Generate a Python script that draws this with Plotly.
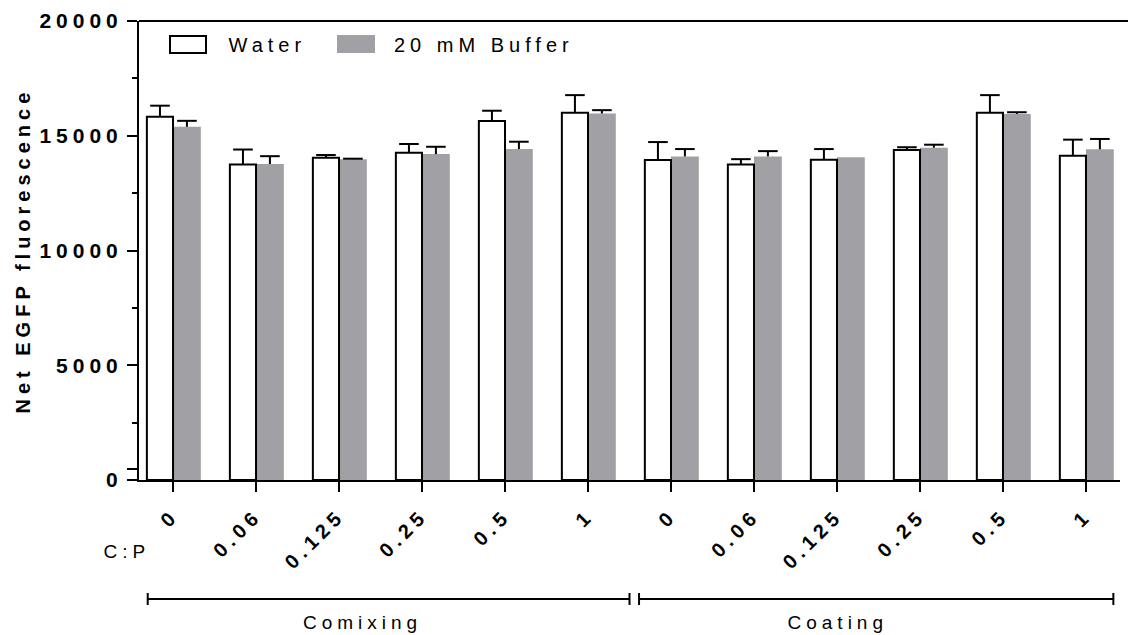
import plotly.graph_objects as go

# ---- data ----
ratios = ["0", "0.06", "0.125", "0.25", "0.5", "1"]
methods = ["Comixing", "Coating"]
tick_labels = ratios + ratios

water_mean = [15830, 13750, 14040, 14260, 15640, 16000, 13940, 13750, 13950, 14380, 16000, 14130]
water_sd = [480, 650, 120, 380, 450, 770, 785, 230, 470, 120, 770, 700]
buffer_mean = [15390, 13770, 13980, 14200, 14420, 15970, 14100, 14100, 14060, 14480, 15950, 14410]
buffer_sd = [260, 340, 20, 320, 320, 145, 320, 230, 0, 130, 75, 450]

y_ticks = [0, 5000, 10000, 15000, 20000]
y_minor = [2500, 7500, 12500, 17500]

# ---- style ----
FONT = "Liberation Sans"
GRAY = "#A1A0A5"
W_OFF, W_W = -0.315, 0.315
B_OFF, B_W = 0.0, 0.335

n = len(water_mean)
xs = list(range(n))

# layout pixel geometry
L, R, T, B = 139, 8, 21, 155
PW, PH = 1128 - L - R, 635 - T - B


def px(x):
    return (x - L) / PW


def py(y):
    return (635 - B - y) / PH


fig = go.Figure()

fig.add_trace(go.Bar(
    x=xs, y=buffer_mean, offset=B_OFF, width=B_W,
    marker=dict(color=GRAY, line=dict(width=0)),
    name="20 mM Buffer", showlegend=False,
))
fig.add_trace(go.Bar(
    x=xs, y=water_mean, offset=W_OFF, width=W_W,
    marker=dict(color="white", line=dict(color="black", width=2)),
    name="Water", showlegend=False,
))

# error bars: upward only, with caps
for mean, sd, off, w in [(water_mean, water_sd, W_OFF, W_W), (buffer_mean, buffer_sd, B_OFF, B_W)]:
    cx = [i + off + w / 2 for i in xs]
    cy = [m + s if s > 0 else None for m, s in zip(mean, sd)]
    fig.add_trace(go.Scatter(
        x=cx, y=cy, mode="markers",
        marker=dict(symbol="line-ew", size=14, line=dict(color="black", width=2), color="black"),
        error_y=dict(type="data", array=[0] * n, arrayminus=sd, symmetric=False,
                     width=0, thickness=2, color="black"),
        showlegend=False, hoverinfo="skip",
    ))

fig.update_layout(
    width=1128, height=635,
    margin=dict(l=L, r=R, t=T, b=B, pad=0),
    paper_bgcolor="white", plot_bgcolor="white",
    barmode="overlay",
    font=dict(family=FONT, color="black", size=19),
    showlegend=False,
)

fig.update_xaxes(
    range=[-0.41, 11.41],
    tickmode="array", tickvals=xs, ticktext=tick_labels,
    tickangle=-45, ticklabelstandoff=4,
    tickfont=dict(family=FONT, size=20, weight="bold"),
    showline=True, linecolor="black", linewidth=2,
    ticks="outside", ticklen=10, tickwidth=2, tickcolor="black",
    showgrid=False, zeroline=False,
)
fig.update_yaxes(
    range=[0, 20000],
    tickmode="array", tickvals=y_ticks + [480], ticktext=[str(v) for v in y_ticks] + [""],
    tickfont=dict(family=FONT, size=21, weight="bold"),
    showline=True, linecolor="black", linewidth=2,
    ticks="outside", ticklen=10, tickwidth=2, tickcolor="black",
    minor=dict(tickvals=y_minor, ticks="outside", ticklen=5, tickwidth=2, tickcolor="black"),
    showgrid=False, zeroline=False,
)

shapes = []
# top frame line
shapes.append(dict(type="line", xref="paper", yref="paper", x0=0, x1=px(1128), y0=1, y1=1,
                   line=dict(color="black", width=2)))
# legend swatches
shapes.append(dict(type="rect", xref="paper", yref="paper", x0=px(170), x1=px(206), y0=py(53), y1=py(36),
                   line=dict(color="black", width=2), fillcolor="white"))
shapes.append(dict(type="rect", xref="paper", yref="paper", x0=px(337), x1=px(375), y0=py(53), y1=py(35),
                   line=dict(width=0), fillcolor=GRAY))

# group brackets below axis
yb = py(599)
hb = 6 / PH
for x0, x1 in [(-0.305, 5.50), (5.615, 11.33)]:
    shapes.append(dict(type="line", xref="x", yref="paper", x0=x0, x1=x1, y0=yb, y1=yb,
                       line=dict(color="black", width=2)))
    for xe in (x0, x1):
        shapes.append(dict(type="line", xref="x", yref="paper", x0=xe, x1=xe, y0=yb - hb, y1=yb + hb,
                           line=dict(color="black", width=2)))
fig.update_layout(shapes=shapes)

ann = []
ann.append(dict(text="Net EGFP fluorescence", xref="paper", yref="paper", x=px(23), y=py(251),
                textangle=-90, showarrow=False, xanchor="center", yanchor="middle",
                font=dict(family=FONT, size=20, weight="bold")))
ann.append(dict(text="Water", xref="paper", yref="paper", x=px(267), y=py(45), showarrow=False,
                xanchor="center", yanchor="middle", font=dict(family=FONT, size=20)))
ann.append(dict(text="20 mM Buffer", xref="paper", yref="paper", x=px(484), y=py(45), showarrow=False,
                xanchor="center", yanchor="middle", font=dict(family=FONT, size=20)))
ann.append(dict(text="C:P", xref="paper", yref="paper", x=px(127), y=py(551), showarrow=False,
                xanchor="center", yanchor="middle", font=dict(family=FONT, size=19)))
ann.append(dict(text=methods[0], xref="paper", yref="paper", x=px(362), y=py(622), showarrow=False,
                xanchor="center", yanchor="middle", font=dict(family=FONT, size=19)))
ann.append(dict(text=methods[1], xref="paper", yref="paper", x=px(838), y=py(622), showarrow=False,
                xanchor="center", yanchor="middle", font=dict(family=FONT, size=19)))
fig.update_layout(annotations=ann)

post = ("document.querySelectorAll('#{plot_id} text').forEach(function(t){"
        "t.style.letterSpacing='5px';});")
fig.write_html("out.html", config={"responsive": False, "displayModeBar": False}, post_script=post)
